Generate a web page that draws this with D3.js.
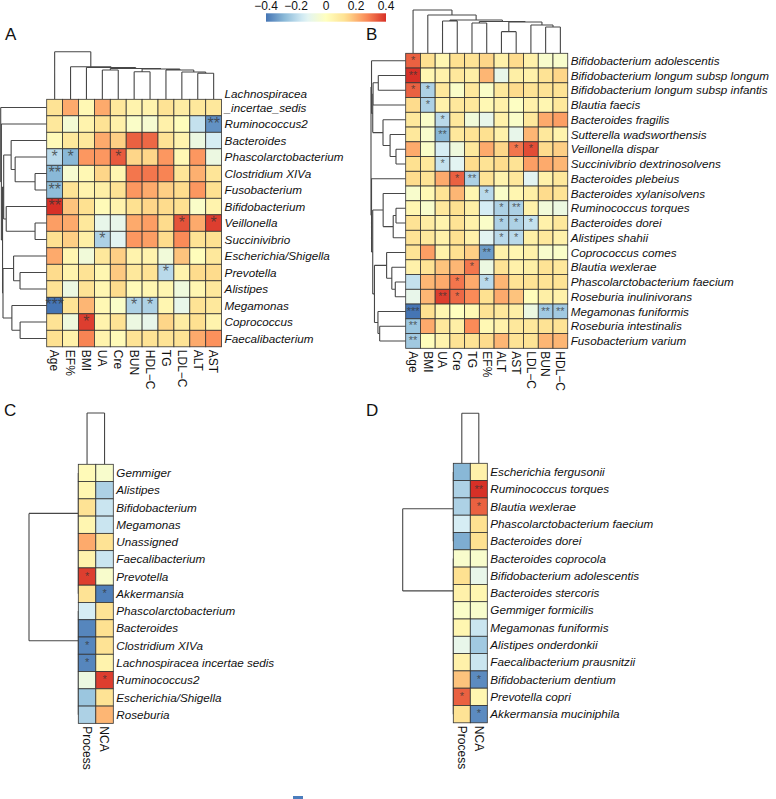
<!DOCTYPE html>
<html>
<head>
<meta charset="utf-8">
<script src="https://cdn.jsdelivr.net/npm/d3@7"></script>
<style>
  body { margin: 0; background: #fff; }
  text { font-family: "Liberation Sans", Arial, Helvetica, sans-serif; }
</style>
</head>
<body>
<svg id="fig" width="776" height="799"></svg>
<script>
// colour key
const palette = ["#4575B4", "#91BFDB", "#E0F3F8", "#FFFFBF", "#FEE090", "#FC8D59", "#D73027"];
const legendTicks = [-0.4, -0.2, 0, 0.2, 0.4];

// ---- panel A: genera vs clinical indices
const colsA = ["Age", "EF%", "BMI", "UA", "Cre", "BUN", "HDL−C", "TG", "LDL−C", "ALT", "AST"];
const rowsA = ["Lachnospiracea\n_incertae_sedis", "Ruminococcus2", "Bacteroides", "Phascolarctobacterium",
  "Clostridium XIVa", "Fusobacterium", "Bifidobacterium", "Veillonella", "Succinivibrio",
  "Escherichia/Shigella", "Prevotella", "Alistipes", "Megamonas", "Coprococcus", "Faecalibacterium"];
const valsA = [
  [0.12, 0.22, 0.03, 0.22, 0.10, 0.05, 0.05, 0.12, 0.08, 0.10, 0.10],
  [0.10, -0.05, 0.05, 0.12, 0.06, -0.02, -0.04, 0.06, 0.01, -0.18, -0.35],
  [0.02, 0.10, 0.10, 0.22, 0.16, 0.33, 0.32, 0.12, 0.05, -0.08, -0.15],
  [-0.20, -0.28, 0.25, 0.25, 0.34, 0.15, 0.15, 0.25, 0.03, 0.25, -0.08],
  [-0.28, -0.04, 0.03, 0.15, 0.04, 0.30, 0.30, 0.28, 0.11, 0.21, 0.11],
  [-0.27, 0.12, 0.05, 0.07, 0.12, 0.25, 0.22, 0.16, 0.14, 0.25, 0.13],
  [0.40, 0.18, 0.13, 0.02, 0.05, 0.13, 0.15, 0.14, 0.13, -0.02, 0.05],
  [0.24, 0.22, 0.10, -0.10, -0.10, 0.22, 0.24, 0.14, 0.35, 0.22, 0.38],
  [0.13, 0.16, 0.07, -0.22, -0.12, 0.25, 0.24, 0.14, 0.27, 0.12, 0.13],
  [0.22, 0.04, -0.06, 0.10, 0.16, 0.05, 0.05, -0.06, 0.18, 0.01, 0.10],
  [0.14, 0.05, 0.12, 0.04, 0.17, 0.10, 0.12, -0.20, 0.05, 0.14, 0.14],
  [0.12, -0.08, 0.12, 0.04, 0.14, 0.02, 0.04, 0.04, -0.07, 0.04, 0.10],
  [-0.40, 0.12, 0.20, 0.03, -0.02, -0.22, -0.22, 0.04, -0.10, 0.12, 0.10],
  [0.12, -0.07, 0.38, 0.05, 0.12, -0.08, -0.10, 0.15, 0.08, 0.13, 0.05],
  [0.13, 0.06, 0.28, 0.05, 0.02, 0.12, 0.12, 0.12, 0.12, 0.22, 0.26]
];
const starsA = [[1, 10, "**"], [3, 0, "*"], [3, 1, "*"], [3, 4, "*"], [4, 0, "**"], [5, 0, "**"],
  [6, 0, "**"], [7, 8, "*"], [7, 10, "*"], [8, 3, "*"], [10, 7, "*"], [12, 0, "***"],
  [12, 5, "*"], [12, 6, "*"], [13, 2, "*"]];
// trees: [height, left, right], leaves are row/col indices
const colTreeA = [1, 0, [0.685, 1, [0.668, 2, [0.647, [0.615, 3, 4],
  [0.636, [0.58, 5, 6], [0.615, 7, [0.573, 8, [0.546, 9, 10]]]]]]]];
const rowTreeA = [1, 0, [0.985, 1, [0.96,
  [0.935, [0.773, 2, [0.686, 3, [0.253, 4, 5]]], [0.88, 6, [0.253, 7, 8]]],
  [0.95, [0.72, 9, [0.58, 10, 11]], [0.757, 12, [0.578, 13, 14]]]]]];

// ---- panel B: species vs clinical indices
const colsB = ["Age", "BMI", "UA", "Cre", "TG", "EF%", "ALT", "AST", "LDL−C", "BUN", "HDL−C"];
const rowsB = ["Bifidobacterium adolescentis", "Bifidobacterium longum subsp longum",
  "Bifidobacterium longum subsp infantis", "Blautia faecis", "Bacteroides fragilis",
  "Sutterella wadsworthensis", "Veillonella dispar", "Succinivibrio dextrinosolvens",
  "Bacteroides plebeius", "Bacteroides xylanisolvens", "Ruminococcus torques", "Bacteroides dorei",
  "Alistipes shahii", "Coprococcus comes", "Blautia wexlerae", "Phascolarctobacterium faecium",
  "Roseburia inulinivorans", "Megamonas funiformis", "Roseburia intestinalis", "Fusobacterium varium"];
const valsB = [
  [0.33, 0.13, 0.04, 0.13, 0.12, 0.15, 0.06, 0.14, 0.06, -0.03, -0.03],
  [0.40, 0.04, 0.06, 0.10, 0.07, 0.20, -0.10, 0.07, 0.06, 0.12, 0.15],
  [0.33, -0.22, 0.10, -0.02, 0.10, -0.02, 0.10, 0.14, 0.12, 0.12, 0.12],
  [0.14, -0.22, 0.06, 0.10, 0.10, 0.03, 0.06, -0.01, 0.06, 0.04, 0.10],
  [0.10, -0.02, -0.20, 0.10, -0.06, -0.10, 0.06, -0.02, 0.10, 0.22, 0.24],
  [0.10, -0.03, -0.28, 0.10, 0.12, 0.13, 0.06, -0.10, 0.20, 0.10, 0.05],
  [0.22, -0.02, -0.15, -0.07, 0.10, 0.22, 0.15, 0.30, 0.36, 0.14, 0.16],
  [0.13, 0.10, -0.18, -0.12, 0.14, 0.12, 0.14, 0.12, 0.24, 0.22, 0.20],
  [0.14, 0.12, 0.22, 0.33, -0.22, 0.12, 0.05, 0.10, -0.12, 0.06, 0.10],
  [-0.03, 0.03, 0.12, 0.20, 0.04, -0.20, -0.02, 0.04, 0.07, 0.14, 0.12],
  [0.04, -0.03, 0.10, 0.13, 0.07, -0.15, -0.22, -0.22, 0.06, -0.06, -0.08],
  [0.12, 0.08, 0.05, 0.12, 0.06, -0.02, -0.22, -0.22, -0.18, 0.06, 0.10],
  [0.12, 0.10, 0.06, 0.13, 0.06, -0.12, -0.20, -0.20, 0.07, 0.10, 0.06],
  [0.12, 0.24, 0.06, 0.13, 0.16, -0.33, 0.06, 0.04, 0.06, -0.03, -0.02],
  [0.06, 0.12, 0.18, 0.20, 0.30, -0.08, 0.12, 0.06, 0.07, 0.12, 0.10],
  [-0.18, 0.20, 0.22, 0.30, 0.22, -0.20, 0.20, 0.12, 0.12, 0.12, 0.12],
  [-0.10, 0.20, 0.38, 0.32, 0.27, 0.13, 0.22, 0.18, 0.01, 0.07, 0.06],
  [-0.40, 0.13, 0.04, 0.00, 0.03, 0.12, 0.10, 0.07, -0.08, -0.24, -0.24],
  [-0.25, 0.22, 0.10, 0.07, 0.27, 0.03, 0.06, 0.10, 0.10, 0.12, 0.12],
  [-0.24, 0.01, 0.05, 0.12, 0.12, 0.14, 0.20, 0.12, 0.12, 0.20, 0.20]
];
const starsB = [[0, 0, "*"], [1, 0, "**"], [2, 0, "*"], [2, 1, "*"], [3, 1, "*"], [4, 2, "*"],
  [5, 2, "**"], [6, 7, "*"], [6, 8, "*"], [7, 2, "*"], [8, 3, "*"], [8, 4, "**"], [9, 5, "*"],
  [10, 6, "*"], [10, 7, "**"], [11, 6, "*"], [11, 7, "*"], [11, 8, "*"], [12, 6, "*"], [12, 7, "*"],
  [13, 5, "**"], [14, 4, "*"], [15, 3, "*"], [15, 5, "*"], [16, 2, "**"], [16, 3, "*"],
  [17, 0, "***"], [17, 9, "**"], [17, 10, "**"], [18, 0, "**"], [19, 0, "**"]];
const colTreeB = [1, 0, [0.885, 1, [0.769, [0.746, 2, 3],
  [0.734, [0.70, 4, 5], [0.723, [0.5, 6, 7], [0.654, 8, [0.607, 9, 10]]]]]]];
const rowTreeB = [1,
  [0.985, 0, [0.95, [0.94, [0.79, 1, 2], 3], [0.654, 4, [0.45, 5, [0.28, 6, 7]]]]],
  [0.985, 8, [0.95, [0.65, 9, [0.36, [0.28, 10, 11], 12]],
    [0.9, [0.55, 13, [0.4, 14, [0.3, 15, 16]]], [0.8, 17, [0.75, 18, 19]]]]]];

// ---- panel C: genera vs Process / NCA
const colsC = ["Process", "NCA"];
const rowsC = ["Gemmiger", "Alistipes", "Bifidobacterium", "Megamonas", "Unassigned", "Faecalibacterium",
  "Prevotella", "Akkermansia", "Phascolarctobacterium", "Bacteroides", "Clostridium XIVa",
  "Lachnospiracea incertae sedis", "Ruminococcus2", "Escherichia/Shigella", "Roseburia"];
const valsC = [
  [0.02, -0.03], [0.04, -0.22], [0.12, -0.17], [0.04, -0.17], [0.22, 0.12], [0.05, -0.17],
  [0.38, -0.03], [0.12, -0.38], [-0.15, 0.12], [-0.37, 0.13], [-0.37, 0.12], [-0.37, 0.05],
  [-0.08, 0.38], [-0.25, 0.12], [-0.22, 0.20]
];
const starsC = [[6, 0, "*"], [7, 1, "*"], [10, 0, "*"], [11, 0, "*"], [12, 1, "*"]];
const colTreeC = [1, 0, 1];
const rowTreeC = [1,
  [0, [0, 0, [0, 1, 2]], [0, 3, [0, 4, [0, 5, [0, 6, 7]]]]],
  [0, [0, 8, 9], [0, 10, [0, 11, [0, 12, [0, 13, 14]]]]]];

// ---- panel D: species vs Process / NCA
const colsD = ["Process", "NCA"];
const rowsD = ["Escherichia fergusonii", "Ruminococcus torques", "Blautia wexlerae",
  "Phascolarctobacterium faecium", "Bacteroides dorei", "Bacteroides coprocola",
  "Bifidobacterium adolescentis", "Bacteroides stercoris", "Gemmiger formicilis",
  "Megamonas funiformis", "Alistipes onderdonkii", "Faecalibacterium prausnitzii",
  "Bifidobacterium dentium", "Prevotella copri", "Akkermansia muciniphila"];
const valsD = [
  [-0.28, 0.06], [-0.22, 0.40], [-0.22, 0.33], [-0.15, 0.13], [-0.30, 0.13], [-0.03, -0.03],
  [0.13, -0.10], [0.06, 0.04], [-0.02, -0.03], [0.04, -0.17], [-0.10, -0.24], [0.06, -0.17],
  [0.18, -0.36], [0.33, 0.04], [0.12, -0.36]
];
const starsD = [[1, 1, "**"], [2, 1, "*"], [12, 1, "*"], [13, 0, "*"], [14, 1, "*"]];
const colTreeD = [1, 0, 1];
const rowTreeD = [1,
  [0, [0, 0, [0, 1, 2]], [0, 3, 4]],
  [0, [0, 5, 6], [0, 7, [0, 8, [0, [0, 9, 10], [0, [0, 11, 12], [0, 13, 14]]]]]]];

const svg = d3.select("#fig");
svg.append("rect").attr("width", 776).attr("height", 799).attr("fill", "#fff");

const color = d3.scaleLinear()
  .domain(d3.range(7).map(i => -0.4 + i * 0.8 / 6))
  .range(palette)
  .clamp(true);

// draws a dendrogram, hs maps height -> pixel along the branch axis
function drawTree(g, tree, leafPos, hs, horizontal) {
  const path = d3.path();
  const seg = (h1, p1, h2, p2) => {
    if (horizontal) { path.moveTo(hs(h1), p1); path.lineTo(hs(h2), p2); }
    else { path.moveTo(p1, hs(h1)); path.lineTo(p2, hs(h2)); }
  };
  function walk(node) {
    if (typeof node === "number") return { p: leafPos(node), h: 0 };
    const a = walk(node[1]), b = walk(node[2]), h = node[0];
    seg(a.h, a.p, h, a.p);
    seg(b.h, b.p, h, b.p);
    seg(h, a.p, h, b.p);
    return { p: (a.p + b.p) / 2, h: h };
  }
  walk(tree);
  g.append("path")
    .attr("d", path.toString())
    .attr("fill", "none")
    .attr("stroke", "#474747")
    .attr("stroke-width", 1.1);
}

function panel(p) {
  const g = svg.append("g");
  const nR = p.rows.length, nC = p.cols.length;
  const x = d3.scaleBand().domain(d3.range(nC)).range([p.x0, p.x0 + nC * p.cw]);
  const y = d3.scaleBand().domain(d3.range(nR)).range([p.y0, p.y0 + nR * p.ch]);
  const cx = j => x(j) + x.bandwidth() / 2;
  const cy = i => y(i) + y.bandwidth() / 2;

  drawTree(g, p.rowTree, cy, d3.scaleLinear().domain([0, 1]).range([p.x0, p.rowRoot]), true);
  drawTree(g, p.colTree, cx, d3.scaleLinear().domain([0, 1]).range([p.y0, p.colRoot]), false);

  const cells = [];
  p.vals.forEach((row, i) => row.forEach((v, j) => cells.push({ i, j, v })));
  g.selectAll("rect.cell").data(cells).join("rect")
    .attr("class", "cell")
    .attr("x", d => x(d.j))
    .attr("y", d => y(d.i))
    .attr("width", x.bandwidth())
    .attr("height", y.bandwidth())
    .attr("fill", d => color(d.v))
    .attr("stroke", "#333")
    .attr("stroke-width", 0.8);

  g.selectAll("text.star").data(p.stars).join("text")
    .attr("class", "star")
    .attr("x", d => cx(d[1]))
    .attr("y", d => cy(d[0]))
    .attr("dy", "0.3em")
    .attr("text-anchor", "middle")
    .attr("font-size", p.starSize)
    .attr("fill", "#333")
    .attr("fill-opacity", 0.75)
    .text(d => d[2]);

  // row labels (italic)
  const lx = p.x0 + nC * p.cw + 3;
  p.rows.forEach((name, i) => {
    const lines = name.split("\n");
    const t = g.append("text")
      .attr("x", lx)
      .attr("font-size", 11.7)
      .attr("font-style", "italic")
      .attr("fill", "#111");
    lines.forEach((ln, k) => {
      t.append("tspan")
        .attr("x", lx)
        .attr("y", cy(i) - (lines.length - 1 - k) * 14)
        .attr("dy", "0.35em")
        .text(ln);
    });
  });

  // column labels, rotated to read downwards
  const ly = p.y0 + nR * p.ch + 3;
  g.selectAll("text.col").data(p.cols).join("text")
    .attr("class", "col")
    .attr("transform", (d, j) => `translate(${cx(j)},${ly}) rotate(90)`)
    .attr("dy", "0.35em")
    .attr("font-size", 12)
    .attr("fill", "#111")
    .text(d => d);

  svg.append("text")
    .attr("x", p.letter[0]).attr("y", p.letter[1])
    .attr("font-size", 17)
    .attr("fill", "#111")
    .text(p.name);
}

panel({ name: "A", letter: [5, 40], rows: rowsA, cols: colsA, vals: valsA, stars: starsA,
  rowTree: rowTreeA, colTree: colTreeA, x0: 46.7, y0: 99.3, cw: 15.9, ch: 16.5,
  rowRoot: 0.7, colRoot: 51.7, starSize: 16 });
panel({ name: "B", letter: [366, 40], rows: rowsB, cols: colsB, vals: valsB, stars: starsB,
  rowTree: rowTreeB, colTree: colTreeB, x0: 405.7, y0: 53.3, cw: 14.73, ch: 14.75,
  rowRoot: 371, colRoot: 10, starSize: 11 });
panel({ name: "C", letter: [4, 415.5], rows: rowsC, cols: colsC, vals: valsC, stars: starsC,
  rowTree: rowTreeC, colTree: colTreeC, x0: 78.3, y0: 464.3, cw: 17.5, ch: 17.27,
  rowRoot: 29, colRoot: 413, starSize: 11 });
panel({ name: "D", letter: [366, 415.5], rows: rowsD, cols: colsD, vals: valsD, stars: starsD,
  rowTree: rowTreeD, colTree: colTreeD, x0: 453.3, y0: 463.3, cw: 17, ch: 17.3,
  rowRoot: 402.7, colRoot: 413.3, starSize: 11 });

// colour key at the top
const lg = svg.append("g");
const lscale = d3.scaleLinear().domain([-0.4, 0.4]).range([266, 386]);
const grad = svg.append("defs").append("linearGradient").attr("id", "key");
d3.range(0, 1.0001, 0.05).forEach(t => {
  grad.append("stop").attr("offset", t).attr("stop-color", color(-0.4 + 0.8 * t));
});
lg.append("rect")
  .attr("x", lscale(-0.4)).attr("y", 13.3)
  .attr("width", lscale(0.4) - lscale(-0.4)).attr("height", 8.4)
  .attr("fill", "url(#key)");
lg.selectAll("text").data(legendTicks).join("text")
  .attr("x", d => lscale(d))
  .attr("y", 10.3)
  .attr("text-anchor", "middle")
  .attr("font-size", 12)
  .attr("fill", "#111")
  .text(d => d === 0 ? "0" : d3.format(".1f")(d).replace("-", "−"));

// small mark at the bottom edge
svg.append("rect").attr("x", 293).attr("y", 796).attr("width", 10).attr("height", 3).attr("fill", "#4a7dbd");
</script>
</body>
</html>
